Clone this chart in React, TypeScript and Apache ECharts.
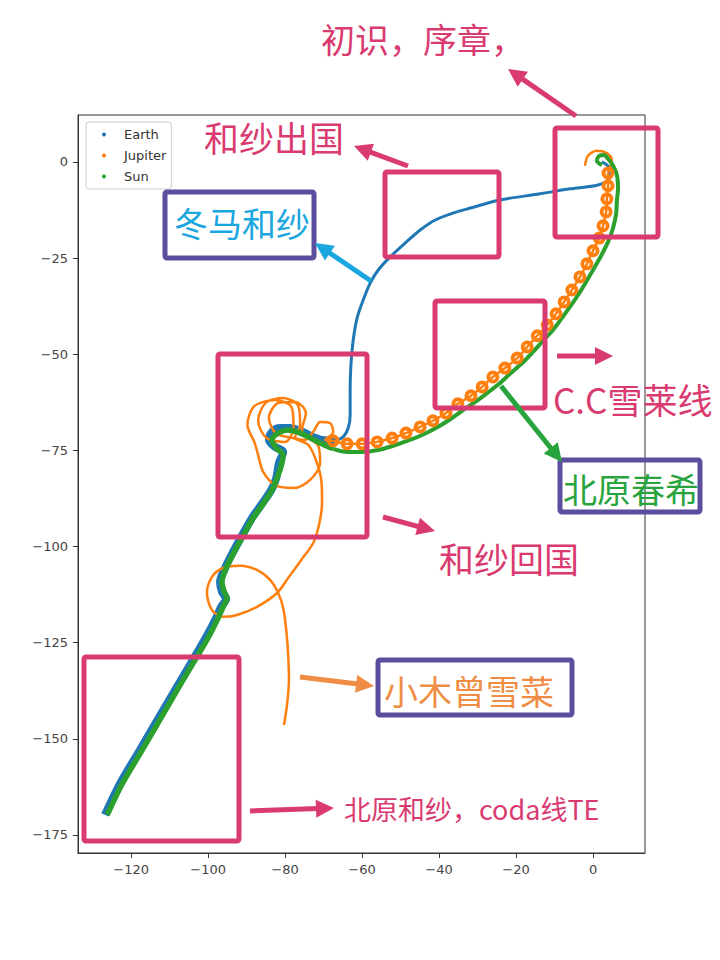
import React, { useEffect, useRef } from "react";
import * as echarts from "echarts";

// ---------- data ----------
const xTicks = [-120, -100, -80, -60, -40, -20, 0];
const yTicks = [-175, -150, -125, -100, -75, -50, -25, 0];
const seriesNames = ["Earth", "Jupiter", "Sun"];

// Earth: leaves the Sun ("和纱出国") and comes back ("和纱回国")
const earthOutbound: number[][] = [
  [2.3, 0.0], [4.2, -1.6], [4.2, -4.2], [1.3, -6.0], [-6.0, -7.0], [-13.8, -8.3],
  [-24.2, -9.9], [-31.9, -12.0], [-36.4, -13.3], [-41.0, -15.1], [-44.9, -17.7],
  [-48.8, -21.1], [-52.7, -24.7], [-55.8, -28.1], [-57.9, -31.5], [-59.7, -35.9],
  [-61.3, -40.6], [-62.3, -46.3], [-62.9, -52.8], [-63.1, -59.3], [-63.1, -65.8],
  [-63.6, -69.2], [-64.9, -71.5], [-67.0, -72.5],
];
const earthReturn: number[][] = [
  [-67.0, -72.5], [-70.4, -72.3], [-73.5, -71.2], [-76.1, -69.9], [-78.7, -69.2],
  [-81.3, -69.2], [-83.4, -70.2], [-84.2, -72.3], [-82.6, -74.1], [-80.5, -75.4],
  [-81.6, -78.3], [-82.3, -82.2], [-83.6, -85.3], [-86.0, -88.9], [-88.6, -92.6],
  [-91.2, -97.2], [-93.5, -101.4], [-95.6, -105.6], [-96.9, -109.2], [-96.4, -111.8],
  [-95.3, -113.6], [-96.6, -115.7], [-97.9, -118.6], [-100.3, -123.2], [-102.9, -127.7],
  [-107.3, -135.2], [-112.5, -144.0], [-117.7, -152.9], [-122.9, -161.7], [-126.8, -169.8],
];

// Jupiter: starting arc, small loops along the Sun, cluster loops, and the escaping tail
const jupiterStart: number[][] = [
  [-2.1, -1.0], [-1.3, 1.6], [1.0, 2.9], [3.6, 2.3], [4.9, 0.5],
];
const jupiterLoops: number[][] = [
  [3.9, -2.9], [3.9, -6.2], [3.6, -9.6], [3.4, -13.0], [2.6, -16.6], [1.6, -19.8],
  [0.0, -23.1], [-1.6, -26.5], [-3.4, -29.9], [-5.5, -33.3], [-7.5, -36.4], [-9.6, -39.5],
  [-11.9, -42.4], [-14.5, -45.2], [-17.1, -48.1], [-19.7, -51.0], [-22.9, -53.6],
  [-26.0, -55.9], [-28.8, -58.5], [-31.7, -60.8], [-35.1, -62.9], [-38.2, -65.3],
  [-41.6, -67.3], [-44.9, -68.9], [-48.6, -70.5], [-52.2, -71.8], [-56.1, -72.8],
  [-60.0, -73.3], [-63.9, -73.3], [-67.5, -72.5],
];
const jupiterCluster: number[][] = [
  [-69.6, -72.3], [-67.5, -70.2], [-68.3, -67.9], [-70.9, -67.6], [-72.5, -69.9],
  [-74.8, -72.3], [-77.4, -71.5],
  [-76.1, -68.4], [-76.6, -63.4], [-80.5, -61.4], [-85.0, -62.6], [-87.0, -67.3],
  [-84.9, -71.7], [-80.0, -72.8],
  [-77.8, -69.2], [-78.3, -63.8], [-82.6, -61.9], [-88.0, -63.5], [-89.8, -68.4],
  [-88.0, -72.8],
  [-87.0, -76.2], [-85.7, -80.6], [-82.3, -84.2], [-77.7, -84.8], [-73.5, -82.7],
  [-70.9, -78.3], [-71.4, -73.8], [-74.3, -71.5],
  [-75.6, -69.7], [-74.6, -65.3], [-77.4, -62.4], [-81.8, -62.7], [-84.2, -66.6],
  [-82.3, -70.7], [-77.9, -71.8],
  [-74.0, -73.6], [-72.0, -77.5], [-70.6, -82.7], [-70.4, -88.7], [-71.2, -94.4],
  [-72.7, -99.1], [-75.8, -103.5], [-79.0, -107.9], [-82.1, -112.1], [-87.3, -115.7],
  [-92.5, -117.8], [-96.1, -118.3], [-99.0, -116.5], [-100.3, -112.1], [-99.0, -107.9],
  [-96.1, -105.6], [-91.7, -105.0], [-87.3, -106.1], [-83.9, -108.7], [-81.8, -112.1],
  [-80.5, -116.0], [-79.7, -121.7], [-79.2, -128.2], [-79.0, -134.7], [-79.5, -141.2],
  [-80.3, -146.4],
];

// Sun
const sunCurve: number[][] = [
  [2.3, -0.8], [1.0, 0.3], [1.6, 1.6], [2.9, 1.8], [3.9, 0.8], [5.2, -1.0], [6.2, -3.4],
  [6.5, -6.8], [6.2, -10.1], [6.0, -13.5], [5.2, -17.2], [3.9, -20.8], [2.1, -24.4],
  [0.0, -28.1], [-1.8, -31.2], [-3.9, -34.6], [-6.0, -37.7], [-8.1, -40.6], [-10.4, -43.7],
  [-13.0, -46.5], [-15.6, -49.4], [-18.4, -52.3], [-21.6, -55.1], [-24.4, -57.7],
  [-27.5, -60.1], [-30.6, -62.4], [-34.0, -64.7], [-37.4, -67.1], [-40.8, -69.2],
  [-44.4, -71.0], [-48.1, -72.5], [-51.9, -73.8], [-55.8, -74.9], [-60.0, -75.4],
  [-63.9, -75.4], [-67.5, -74.6],
];
const sunReturn: number[][] = [
  [-67.5, -74.6], [-70.9, -73.1], [-74.0, -71.5], [-76.9, -70.2], [-79.5, -69.7],
  [-81.8, -70.5], [-83.4, -72.3], [-82.3, -74.4], [-80.5, -76.2], [-81.0, -79.0],
  [-82.1, -82.2], [-83.4, -85.3], [-85.7, -88.9], [-88.3, -92.6], [-90.9, -97.2],
  [-93.2, -101.4], [-95.3, -105.6], [-96.4, -109.2], [-95.8, -111.8], [-95.1, -113.4],
  [-96.1, -115.7], [-97.4, -118.6], [-99.7, -123.2], [-102.3, -127.7], [-106.8, -135.2],
  [-111.9, -144.0], [-117.1, -152.9], [-122.3, -161.7], [-126.2, -169.8],
];

// ---------- annotations (layout, pixels) ----------
const PINK = "#d93a70";
const PURPLE = "#5c4d9e";
const CYAN = "#1aa6df";
const GREEN = "#27a43d";
const ORANGE = "#f08d45";

const boxes = [
  { x: 555, y: 128, w: 103, h: 109, c: PINK },
  { x: 385, y: 172, w: 114, h: 85, c: PINK },
  { x: 435, y: 301, w: 110, h: 107, c: PINK },
  { x: 218, y: 354, w: 149, h: 183, c: PINK },
  { x: 84, y: 657, w: 155, h: 184, c: PINK },
  { x: 165, y: 192, w: 149, h: 66, c: PURPLE },
  { x: 560, y: 460, w: 140, h: 52, c: PURPLE },
  { x: 378, y: 660, w: 194, h: 55, c: PURPLE },
];

const arrows = [
  { x0: 576, y0: 116, x1: 508, y1: 69, c: PINK },
  { x0: 408, y0: 166, x1: 354, y1: 146, c: PINK },
  { x0: 371, y0: 281, x1: 315, y1: 243, c: CYAN },
  { x0: 557, y0: 356, x1: 613, y1: 356, c: PINK },
  { x0: 501, y0: 386, x1: 562, y1: 462, c: GREEN },
  { x0: 383, y0: 517, x1: 435, y1: 531, c: PINK },
  { x0: 300, y0: 677, x1: 374, y1: 686, c: ORANGE },
  { x0: 250, y0: 811, x1: 334, y1: 808, c: PINK },
];

const labels = [
  { t: "初识，序章，", x: 321, y: 38, s: 34, c: PINK },
  { t: "和纱出国", x: 204, y: 136, s: 35, c: PINK },
  { t: "冬马和纱", x: 174, y: 222, s: 34, c: CYAN },
  { t: "C.C雪莱线", x: 553, y: 398, s: 35, c: PINK },
  { t: "北原春希", x: 563, y: 488, s: 34, c: GREEN },
  { t: "和纱回国", x: 439, y: 557, s: 35, c: PINK },
  { t: "小木曾雪菜", x: 384, y: 690, s: 34, c: ORANGE },
  { t: "北原和纱，coda线TE", x: 344, y: 808, s: 27, c: PINK },
];

// thick ring symbol for Jupiter's small loops
const RING =
  "path://M0,-6A6,6,0,1,1,0,6A6,6,0,1,1,0,-6ZM0,-2.4A2.4,2.4,0,1,0,0,2.4A2.4,2.4,0,1,0,0,-2.4Z";

function arrowEls(a: { x0: number; y0: number; x1: number; y1: number; c: string }) {
  const dx = a.x1 - a.x0;
  const dy = a.y1 - a.y0;
  const len = Math.hypot(dx, dy);
  const ux = dx / len;
  const uy = dy / len;
  const L = 18;
  const W = 9;
  const bx = a.x1 - ux * L;
  const by = a.y1 - uy * L;
  return [
    {
      type: "line",
      z: 100,
      shape: { x1: a.x0, y1: a.y0, x2: bx + ux * 2, y2: by + uy * 2 },
      style: { stroke: a.c, lineWidth: 5 },
    },
    {
      type: "polygon",
      z: 100,
      shape: { points: [[a.x1, a.y1], [bx - uy * W, by + ux * W], [bx + uy * W, by - ux * W]] },
      style: { fill: a.c },
    },
  ];
}

const C_EARTH = "#1f77b4";
const C_JUP = "#ff7f0e";
const C_SUN = "#2ca02c";

const minus = (v: number) => (v < 0 ? "\u2212" + Math.abs(v) : String(v));

export default function App() {
  const ref = useRef<HTMLDivElement>(null);
  useEffect(() => {
    if (!ref.current) return;
    const chart = echarts.init(ref.current, null, { renderer: "svg" });
    const lineBase = { type: "line", showSymbol: false, smooth: 0.3, silent: true };
    const graphics: any[] = [];
    boxes.forEach((b) =>
      graphics.push({
        type: "rect",
        z: 100,
        shape: { x: b.x, y: b.y, width: b.w, height: b.h, r: 2 },
        style: { fill: "none", stroke: b.c, lineWidth: 5 },
      })
    );
    arrows.forEach((a) => graphics.push(...arrowEls(a)));
    labels.forEach((l) =>
      graphics.push({
        type: "text",
        z: 101,
        x: l.x,
        y: l.y,
        style: {
          text: l.t,
          fill: l.c,
          fontSize: l.s,
          fontFamily: '"Noto Sans CJK SC", "Noto Sans", sans-serif',
          align: "left",
          verticalAlign: "middle",
        },
      })
    );

    const axisCommon = {
      type: "value",
      splitLine: { show: false },
      axisLine: { show: true, onZero: false, lineStyle: { color: "#333", width: 1 } },
      axisTick: { show: true, inside: false, length: 5, lineStyle: { color: "#333" } },
    };

    chart.setOption({
      animation: false,
      backgroundColor: "#ffffff",
      grid: {
        left: 78,
        right: 75,
        top: 115,
        bottom: 107,
        show: true,
        borderColor: "#333",
        borderWidth: 1,
        backgroundColor: "transparent",
        containLabel: false,
        outerBoundsMode: "none",
      },
      legend: {
        data: seriesNames,
        orient: "vertical",
        left: 86,
        top: 122,
        icon: "circle",
        itemWidth: 30,
        itemHeight: 4,
        itemGap: 8,
        padding: [6, 5, 6, 16],
        borderColor: "#cccccc",
        borderWidth: 1,
        borderRadius: 3,
        backgroundColor: "rgba(255,255,255,0.85)",
        textStyle: { fontFamily: "DejaVu Sans", fontSize: 13, color: "#333" },
      },
      xAxis: {
        ...axisCommon,
        min: -133.8,
        max: 13.5,
        axisTick: { ...axisCommon.axisTick, customValues: xTicks },
        axisLabel: {
          customValues: xTicks,
          formatter: minus,
          margin: 10,
          fontSize: 13,
          color: "#444",
          fontFamily: "DejaVu Sans",
        },
      },
      yAxis: {
        ...axisCommon,
        min: -179.7,
        max: 12.2,
        axisTick: { ...axisCommon.axisTick, customValues: yTicks },
        axisLabel: {
          customValues: yTicks,
          formatter: minus,
          margin: 10,
          fontSize: 13,
          color: "#444",
          fontFamily: "DejaVu Sans",
        },
      },
      graphic: graphics,
      series: [
        { ...lineBase, name: "Earth", color: C_EARTH, data: earthOutbound, lineStyle: { width: 3, color: C_EARTH } },
        { ...lineBase, name: "Earth", color: C_EARTH, data: earthReturn, lineStyle: { width: 8, color: C_EARTH } },
        {
          ...lineBase,
          name: "Jupiter",
          color: C_JUP,
          data: [...jupiterStart, jupiterLoops[0]],
          lineStyle: { width: 2.5, color: C_JUP },
        },
        {
          type: "line",
          silent: true,
          name: "Jupiter",
          color: C_JUP,
          data: jupiterLoops,
          smooth: 0.3,
          showSymbol: true,
          showAllSymbol: true,
          symbol: RING,
          symbolSize: 13,
          itemStyle: { color: C_JUP, borderWidth: 0 },
          lineStyle: { width: 2.5, color: C_JUP },
        },
        {
          ...lineBase,
          name: "Jupiter",
          color: C_JUP,
          data: [jupiterLoops[jupiterLoops.length - 1], ...jupiterCluster],
          lineStyle: { width: 2.5, color: C_JUP },
        },
        { ...lineBase, name: "Sun", color: C_SUN, data: sunCurve, lineStyle: { width: 4, color: C_SUN } },
        { ...lineBase, name: "Sun", color: C_SUN, data: sunReturn, lineStyle: { width: 5.5, color: C_SUN } },
      ],
    });
    return () => chart.dispose();
  }, []);
  return (
    <div
      ref={ref}
      style={{ position: "fixed", left: 0, top: 0, width: 720, height: 960, background: "#fff" }}
    />
  );
}
